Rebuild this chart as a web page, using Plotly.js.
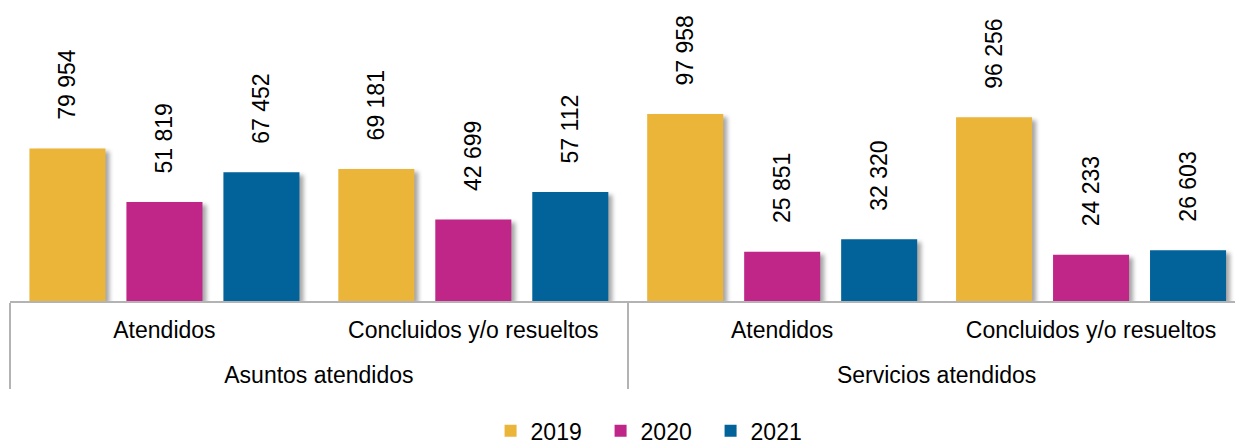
<!DOCTYPE html>
<html>
<head>
<meta charset="utf-8">
<script src="https://cdn.plot.ly/plotly-3.0.1.min.js"></script>
<style>
html, body { margin: 0; padding: 0; background: #fff; }
#chart { width: 1235px; height: 446px; }
.barlayer .point path { filter: drop-shadow(4px 3px 2px rgba(0,0,0,0.35)); }
</style>
</head>
<body>
<div id="chart"></div>
<script>
const groups = ["Asuntos atendidos", "Asuntos atendidos", "Servicios atendidos", "Servicios atendidos"];
const categories = ["Atendidos", "Concluidos y/o resueltos", "Atendidos", "Concluidos y/o resueltos"];
const years = ["2019", "2020", "2021"];
const values2019 = [79954, 69181, 97958, 96256];
const values2020 = [51819, 42699, 25851, 24233];
const values2021 = [67452, 57112, 32320, 26603];
const colors = ["#EBB53A", "#BF2688", "#02629A"];

const series = [values2019, values2020, values2021];
const FONT = "Liberation Sans, Arial, sans-serif";
const pad = "\u00a0\u00a0\u00a0\u00a0";
// taller invisible spacer so the second label level sits lower, as in the reference
const spacer = "<span style='font-size:45px'> </span>";
const catLabels = categories.map(c => spacer + c + spacer);

const traces = series.map((vals, i) => ({
  type: "bar",
  name: years[i],
  x: [groups, catLabels],
  y: vals,
  marker: { color: colors[i], line: { width: 0 } },
  texttemplate: pad + "%{y:,}",
  textposition: "outside",
  textangle: -90,
  constraintext: "none",
  cliponaxis: false,
  textfont: { family: FONT, size: 23, color: "#000" },
  hoverinfo: "none"
}));

const layout = {
  width: 1235,
  height: 446,
  margin: { l: 10, r: 0, t: 0, b: 145 },
  paper_bgcolor: "#fff",
  plot_bgcolor: "#fff",
  barmode: "group",
  bargap: 0.058,
  bargroupgap: 0.216,
  separators: ". ",
  font: { family: FONT, size: 23, color: "#000" },
  showlegend: true,
  legend: {
    orientation: "h",
    x: 0.527, xanchor: "center",
    y: 0.034, yanchor: "middle", yref: "container",
    font: { family: FONT, size: 23, color: "#000" },
    entrywidth: 65,
    itemclick: false
  },
  xaxis: {
    type: "multicategory",
    range: [-0.5, 3.466],
    showline: true,
    linecolor: "#b3b3b3",
    linewidth: 1.5,
    showdividers: true,
    dividercolor: "#b3b3b3",
    dividerwidth: 1.5,
    ticks: "",
    ticklabelstandoff: 8,
    tickfont: { family: FONT, size: 23, color: "#000" },
    showgrid: false,
    zeroline: false,
    fixedrange: true
  },
  yaxis: {
    range: [0, 157700],
    visible: false,
    showgrid: false,
    zeroline: false,
    fixedrange: true
  }
};

Plotly.newPlot("chart", traces, layout, { displayModeBar: false, staticPlot: true });
</script>
</body>
</html>
